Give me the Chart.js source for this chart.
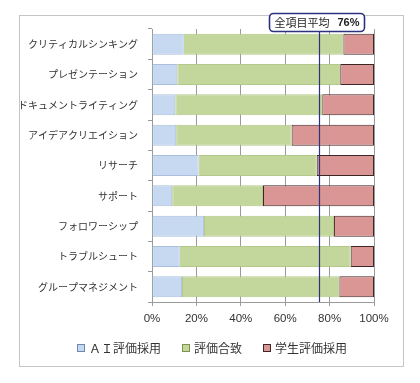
<!DOCTYPE html>
<html>
<head>
<meta charset="utf-8">
<script src="https://cdn.jsdelivr.net/npm/chart.js@4/dist/chart.umd.min.js"></script>
<style>
  html, body { margin: 0; padding: 0; background: #ffffff; }
  #wrap { position: relative; width: 420px; height: 383px; }
</style>
</head>
<body>
<div id="wrap"><canvas id="c" width="420" height="383"></canvas></div>
<script>
const categories = ['クリティカルシンキング', 'プレゼンテーション', 'ドキュメントライティング', 'アイデアクリエイション', 'リサーチ', 'サポート', 'フォロワーシップ', 'トラブルシュート', 'グループマネジメント'];
const seriesNames = ['ＡＩ評価採用', '評価合致', '学生評価採用'];
const aiAdopted = [14.3, 11.4, 10.5, 10.9, 21.0, 9.1, 23.4, 12.5, 13.5];
const agreement = [71.9, 73.4, 66.2, 52.0, 53.2, 40.9, 58.6, 77.0, 70.9];
const studentAdopted = [13.8, 15.2, 23.3, 37.1, 25.8, 50.0, 18.0, 10.5, 15.6];
const xTicks = [0, 20, 40, 60, 80, 100];
const avgLineValue = 75.3;
const avgLabel = '全項目平均';
const avgValueLabel = '76%';

const JP = '"Noto Sans CJK JP", "Noto Sans", sans-serif';
const NAVY = '#2d3280';

const frameAndAnnotation = {
  id: 'frameAndAnnotation',
  beforeDraw(chart) {
    const ctx = chart.ctx;
    ctx.save();
    ctx.fillStyle = '#ffffff';
    ctx.fillRect(0, 0, chart.width, chart.height);
    ctx.strokeStyle = '#c4c4c4';
    ctx.lineWidth = 1;
    ctx.strokeRect(19.5, 15.5, 384, 351);
    ctx.restore();
  },
  afterDraw(chart) {
    const ctx = chart.ctx;
    const xs = chart.scales.x;
    const area = chart.chartArea;
    const px = Math.round(xs.getPixelForValue(avgLineValue)) + 0.5;
    ctx.save();
    ctx.strokeStyle = NAVY;
    ctx.lineWidth = 1.2;
    ctx.beginPath();
    ctx.moveTo(px, 30);
    ctx.lineTo(px, area.bottom);
    ctx.stroke();
    const bx = px - 50, by = 13.5, bw = 95, bh = 18;
    ctx.fillStyle = '#ffffff';
    ctx.strokeStyle = NAVY;
    ctx.lineWidth = 1.6;
    ctx.beginPath();
    ctx.roundRect(bx, by, bw, bh, 4);
    ctx.fill();
    ctx.stroke();
    ctx.fillStyle = '#222';
    ctx.textBaseline = 'middle';
    ctx.textAlign = 'left';
    ctx.font = '11px ' + JP;
    const w1 = ctx.measureText(avgLabel).width;
    ctx.font = 'bold 11px "Liberation Sans", Arial, sans-serif';
    const w2 = ctx.measureText(avgValueLabel).width;
    const total = w1 + 8 + w2;
    let tx = bx + (bw - total) / 2;
    ctx.font = '11px ' + JP;
    ctx.fillText(avgLabel, tx, by + bh / 2 + 0.5);
    ctx.font = 'bold 11px "Liberation Sans", Arial, sans-serif';
    ctx.fillText(avgValueLabel, tx + w1 + 8, by + bh / 2 + 0.5);
    ctx.font = '12px ' + JP;
    const items = chart.data.datasets.map(d => ({ text: d.label, fill: d.backgroundColor, stroke: d.legendBorder }));
    const box = 7, gapIn = 5, gapOut = 21;
    let totalW = 0;
    items.forEach((it, i) => { totalW += box + gapIn + ctx.measureText(it.text).width + (i < items.length - 1 ? gapOut : 0); });
    let x = 212 - totalW / 2;
    const ly = 348;
    items.forEach(it => {
      ctx.fillStyle = it.fill;
      ctx.fillRect(x + 0.5, ly - 3.5, box, box);
      ctx.strokeStyle = it.stroke;
      ctx.lineWidth = 1;
      ctx.strokeRect(x + 0.5, ly - 3.5, box, box);
      ctx.fillStyle = '#333';
      ctx.textBaseline = 'middle';
      ctx.fillText(it.text, x + box + gapIn, ly + 0.5);
      x += box + gapIn + ctx.measureText(it.text).width + gapOut;
    });
    ctx.restore();
  }
};

new Chart(document.getElementById('c'), {
  type: 'bar',
  data: {
    labels: categories,
    datasets: [
      { label: seriesNames[0], data: aiAdopted, backgroundColor: '#c6d9f1', borderColor: '#a9bfdc', legendBorder: '#6d87ad', borderWidth: 1, borderSkipped: false },
      { label: seriesNames[1], data: agreement, backgroundColor: '#c3d69b', borderColor: '#b3c889', legendBorder: '#7f9350', borderWidth: 1, borderSkipped: false },
      { label: seriesNames[2], data: studentAdopted, backgroundColor: '#d99694', borderColor: '#3e2626', legendBorder: '#3e2626', borderWidth: 1, borderSkipped: false }
    ]
  },
  options: {
    indexAxis: 'y',
    responsive: false,
    animation: false,
    devicePixelRatio: 1,
    layout: { padding: { top: 29, right: 46, left: 0, bottom: 51 } },
    datasets: { bar: { categoryPercentage: 1, barPercentage: 0.69 } },
    plugins: { legend: { display: false }, tooltip: { enabled: false } },
    scales: {
      x: {
        stacked: true,
        min: 0,
        max: 100,
        afterBuildTicks(scale) { scale.ticks = xTicks.map(v => ({ value: v })); },
        afterFit(scale) { scale.height = 30; },
        grid: { color: '#9a9a9a', lineWidth: 1, tickLength: 4, drawTicks: true },
        border: { color: '#9a9a9a', width: 1 },
        ticks: {
          padding: 6,
          color: '#333',
          font: { family: '"Liberation Sans", Arial, sans-serif', size: 11.5 },
          callback: v => v + '%',
          maxRotation: 0
        }
      },
      y: {
        stacked: true,
        afterFit(scale) { scale.width = 152; },
        grid: { drawOnChartArea: false, color: '#9a9a9a', tickLength: 4, offset: true },
        border: { color: '#9a9a9a', width: 1 },
        ticks: {
          padding: 10,
          color: '#333',
          font: { family: JP, size: 10 }
        }
      }
    }
  },
  plugins: [frameAndAnnotation]
});
</script>
</body>
</html>
